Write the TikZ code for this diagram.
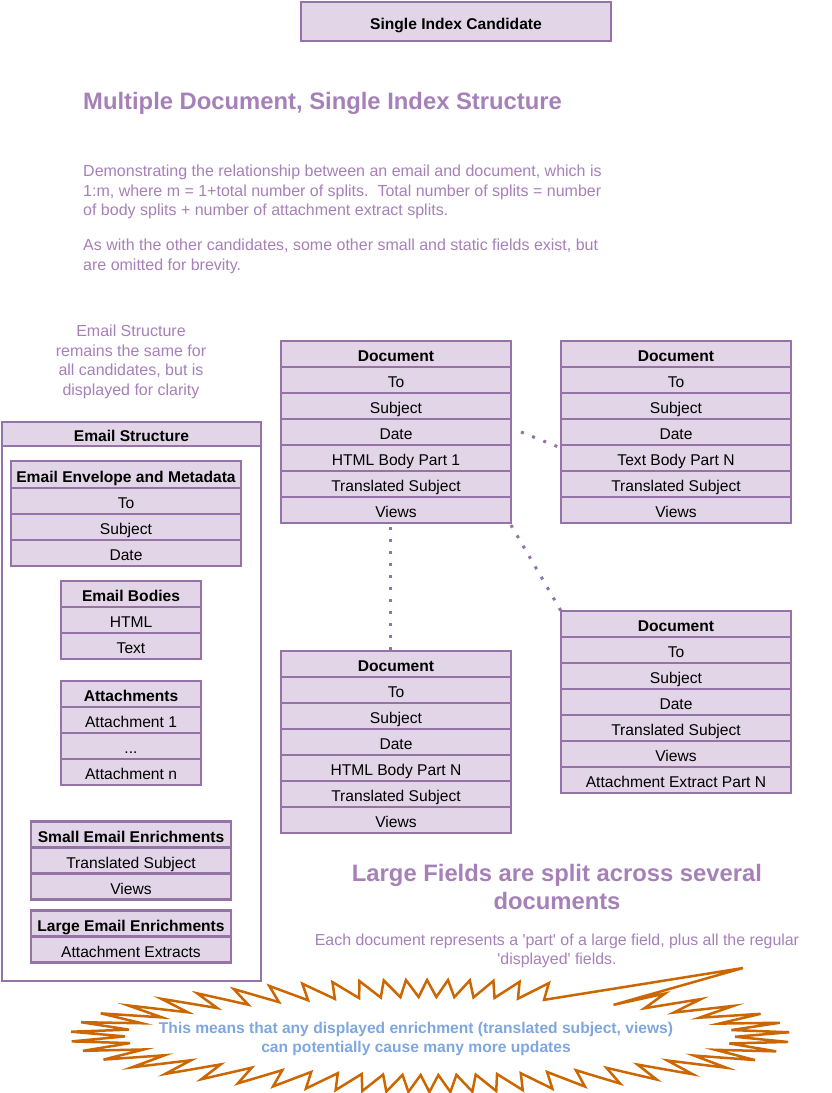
\documentclass[tikz,border=0pt]{standalone}
\usepackage{fontspec}
\setmainfont{Liberation Sans}
\usetikzlibrary{positioning}
\definecolor{boxline}{HTML}{9673A6}
\definecolor{boxfill}{HTML}{E1D5E7}
\definecolor{notetext}{HTML}{A680B8}
\definecolor{burstline}{HTML}{CC6600}
\definecolor{bursttext}{HTML}{7EA6E0}

\begin{document}
\begin{tikzpicture}[x=1pt,y=-1pt,
  cell/.style={rectangle, draw=boxline, fill=boxfill, line width=2.2pt, outer sep=0pt, inner sep=0pt,
    minimum height=26pt, text height=15pt, text depth=0pt, font=\fontsize{15.6}{18}\selectfont},
  headcell/.style={cell, font=\fontsize{15.6}{18}\selectfont\bfseries},
  docrow/.style={cell, minimum width=230pt},
  dochead/.style={headcell, minimum width=230pt},
  note/.style={text=notetext, inner sep=0pt, font=\fontsize{16}{19.5}\selectfont},
  bignote/.style={text=notetext, inner sep=0pt, font=\fontsize{23.8}{28}\selectfont\bfseries},
  dotlink/.style={draw=boxline, line width=3pt, dash pattern=on 3pt off 9pt}]
\useasboundingbox (0,0) rectangle (832,1093);

% title and notes
\node[headcell, minimum width=310pt, minimum height=39pt] (candidate) at (456,21.5) {Single Index Candidate};
\node[bignote, anchor=west] (title) at (83,103) {Multiple Document, Single Index Structure};
\node[note, anchor=north west, align=left] (intro) at (83,165) {Demonstrating the relationship between an email and document, which is\\
1:m, where m = 1+total number of splits.\ \ Total number of splits = number\\
of body splits + number of attachment extract splits.};
\node[note, anchor=north west, align=left] (omitted) at (83,239) {As with the other candidates, some other small and static fields exist, but\\
are omitted for brevity.};
\node[note, align=center] (emailnote) at (131,362) {Email Structure\\remains the same for\\all candidates, but is\\displayed for clarity};

% email structure
\node[rectangle, draw=boxline, line width=2.2pt, minimum width=259pt, minimum height=559pt, outer sep=0pt] (emailbox) at (131.5,701.5) {};
\node[headcell, minimum width=259pt, minimum height=24pt, below=0pt of emailbox.north] (emailhead) {Email Structure};

\node[headcell, minimum width=230pt, minimum height=27pt] (envh) at (126,474.5) {Email Envelope and Metadata};
\node[cell, minimum width=230pt, below=0pt of envh] (envto) {To};
\node[cell, minimum width=230pt, below=0pt of envto] (envsubj) {Subject};
\node[cell, minimum width=230pt, below=0pt of envsubj] (envdate) {Date};

\node[headcell, minimum width=140pt] (bodh) at (131,594) {Email Bodies};
\node[cell, minimum width=140pt, below=0pt of bodh] (bodhtml) {HTML};
\node[cell, minimum width=140pt, below=0pt of bodhtml] (bodtext) {Text};

\node[headcell, minimum width=140pt] (atth) at (131,694) {Attachments};
\node[cell, minimum width=140pt, below=0pt of atth] (attone) {Attachment 1};
\node[cell, minimum width=140pt, below=0pt of attone] (attdots) {...};
\node[cell, minimum width=140pt, below=0pt of attdots] (attn) {Attachment n};

\node[headcell, minimum width=200pt] (smallh) at (131,834.5) {Small Email Enrichments};
\node[cell, minimum width=200pt, below=0pt of smallh] (smallts) {Translated Subject};
\node[cell, minimum width=200pt, below=0pt of smallts] (smallviews) {Views};

\node[headcell, minimum width=200pt] (largeh) at (131,923.5) {Large Email Enrichments};
\node[cell, minimum width=200pt, below=0pt of largeh] (largeext) {Attachment Extracts};

% documents
\node[dochead] (d1h) at (396,354) {Document};
\node[docrow, below=0pt of d1h] (d1to) {To};
\node[docrow, below=0pt of d1to] (d1subj) {Subject};
\node[docrow, below=0pt of d1subj] (d1date) {Date};
\node[docrow, below=0pt of d1date] (d1body) {HTML Body Part 1};
\node[docrow, below=0pt of d1body] (d1ts) {Translated Subject};
\node[docrow, below=0pt of d1ts] (d1views) {Views};

\node[dochead] (d2h) at (676,354) {Document};
\node[docrow, below=0pt of d2h] (d2to) {To};
\node[docrow, below=0pt of d2to] (d2subj) {Subject};
\node[docrow, below=0pt of d2subj] (d2date) {Date};
\node[docrow, below=0pt of d2date] (d2body) {Text Body Part N};
\node[docrow, below=0pt of d2body] (d2ts) {Translated Subject};
\node[docrow, below=0pt of d2ts] (d2views) {Views};

\node[dochead] (d3h) at (396,664) {Document};
\node[docrow, below=0pt of d3h] (d3to) {To};
\node[docrow, below=0pt of d3to] (d3subj) {Subject};
\node[docrow, below=0pt of d3subj] (d3date) {Date};
\node[docrow, below=0pt of d3date] (d3body) {HTML Body Part N};
\node[docrow, below=0pt of d3body] (d3ts) {Translated Subject};
\node[docrow, below=0pt of d3ts] (d3views) {Views};

\node[dochead] (d4h) at (676,624) {Document};
\node[docrow, below=0pt of d4h] (d4to) {To};
\node[docrow, below=0pt of d4to] (d4subj) {Subject};
\node[docrow, below=0pt of d4subj] (d4date) {Date};
\node[docrow, below=0pt of d4date] (d4ts) {Translated Subject};
\node[docrow, below=0pt of d4ts] (d4views) {Views};
\node[docrow, below=0pt of d4views] (d4ext) {Attachment Extract Part N};

% dotted links
\draw[dotlink] ([xshift=10pt]d1date.east) -- ([yshift=-3pt]d2date.south west);
\draw[dotlink] ([xshift=-6pt,yshift=-4pt]d1views.south) -- ([xshift=-6pt]d3h.north);
\draw[dotlink] ([yshift=-2pt]d1views.south east) -- (d4h.north west);

% split note
\node[bignote, align=center] (splitnote) at (557,887) {Large Fields are split across several\\documents};
\node[note, align=center, font=\fontsize{15.9}{19}\selectfont] (partnote) at (557,951) {Each document represents a \textquotesingle part\textquotesingle\ of a large field, plus all the regular\\\textquotesingle displayed\textquotesingle\ fields.};

% burst callout
\draw[burstline, line width=2.5pt, line join=miter] (743,968)
  \foreach \i in {0,...,104}{ -- ({430+ifthenelse(mod(\i,2)==0,305,360)*cos(54.5+3.3125*\i+14.32*sin(109+6.625*\i))},{1036-ifthenelse(mod(\i,2)==0,39,56)*sin(54.5+3.3125*\i+14.32*sin(109+6.625*\i))})} -- cycle;
\node[text=bursttext, align=center, inner sep=0pt, font=\fontsize{15.6}{19}\selectfont\bfseries] (burst) at (416,1039) {This means that any displayed enrichment (translated subject, views)\\can potentially cause many more updates};
\end{tikzpicture}
\end{document}
